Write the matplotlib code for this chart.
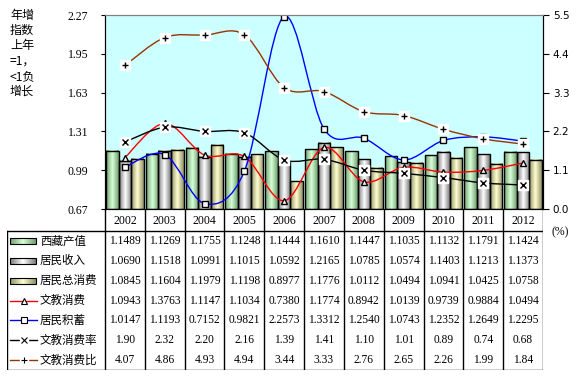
import numpy as np
import matplotlib
matplotlib.use("Agg")
import matplotlib.pyplot as plt
from matplotlib.path import Path
from matplotlib.patches import PathPatch, Rectangle
from matplotlib.colors import LinearSegmentedColormap

# 数据
years = ['2002', '2003', '2004', '2005', '2006', '2007', '2008', '2009', '2010', '2011', '2012']
xizang_output = [1.1489, 1.1269, 1.1755, 1.1248, 1.1444, 1.1610, 1.1447, 1.1035, 1.1132, 1.1791, 1.1424]
income = [1.0690, 1.1518, 1.0991, 1.1015, 1.0592, 1.2165, 1.0785, 1.0574, 1.1403, 1.1213, 1.1373]
consumption = [1.0845, 1.1604, 1.1979, 1.1198, 0.8977, 1.1776, 1.0112, 1.0494, 1.0941, 1.0425, 1.0758]
edu_spend = [1.0943, 1.3763, 1.1147, 1.1034, 0.7380, 1.1774, 0.8942, 1.0139, 0.9739, 0.9884, 1.0494]
savings = [1.0147, 1.1193, 0.7152, 0.9821, 2.2573, 1.3312, 1.2540, 1.0743, 1.2352, 1.2649, 1.2295]
edu_rate = [1.90, 2.32, 2.20, 2.16, 1.39, 1.41, 1.10, 1.01, 0.89, 0.74, 0.68]
edu_ratio = [4.07, 4.86, 4.93, 4.94, 3.44, 3.33, 2.76, 2.65, 2.26, 1.99, 1.84]

row_names = ['西藏产值', '居民收入', '居民总消费', '文教消费', '居民积蓄', '文教消费率', '文教消费比']
left_ticks = [0.67, 0.99, 1.31, 1.63, 1.95, 2.27]
right_ticks = [0.0, 1.1, 2.2, 3.3, 4.4, 5.5]

CJK = ['Noto Sans CJK SC', 'DejaVu Sans']
NUM = 'Liberation Serif'

W, H = 576, 376
fig = plt.figure(figsize=(W / 100, H / 100), dpi=100)


def fpos(x0, y0, x1, y1):
    # 像素坐标 -> figure 坐标
    return [x0 / W, 1 - y1 / H, (x1 - x0) / W, (y1 - y0) / H]


L, R, T, B = 105, 543, 15, 209
ax = fig.add_axes(fpos(L, T, R, B))
ax.set_facecolor('#ccffff')
ax2 = ax.twinx()

n = len(years)
x = np.arange(n)


def grad_cmap(dark, light):
    return LinearSegmentedColormap.from_list('g', [dark, light, dark])


bar_sets = [
    (xizang_output, grad_cmap('#6f9f6f', '#d8ffd8')),
    (income, grad_cmap('#7a7a7a', '#ffffff')),
    (consumption, grad_cmap('#8f8f66', '#ffffd0')),
]
bw = 0.317
g = np.linspace(0, 1, 64).reshape(1, -1)
for k, (vals, cmap) in enumerate(bar_sets):
    xs = x + (k - 1) * bw
    for xi, v in zip(xs, vals):
        ax.imshow(g, extent=(xi - bw / 2, xi + bw / 2, 0.67, v), aspect='auto',
                  cmap=cmap, zorder=1, interpolation='bilinear')
    ax.bar(xs, np.array(vals) - 0.67, bottom=0.67, width=bw, fill=False,
           edgecolor='black', linewidth=1, zorder=2)


def smooth_path(xv, yv):
    verts = [(xv[0], yv[0])]
    codes = [Path.MOVETO]
    m = len(xv)
    for i in range(m - 1):
        p0 = (xv[i - 1], yv[i - 1]) if i > 0 else (xv[i], yv[i])
        p3 = (xv[i + 2], yv[i + 2]) if i + 2 < m else (xv[i + 1], yv[i + 1])
        c1 = (xv[i] + (xv[i + 1] - p0[0]) / 6, yv[i] + (yv[i + 1] - p0[1]) / 6)
        c2 = (xv[i + 1] - (p3[0] - xv[i]) / 6, yv[i + 1] - (p3[1] - yv[i]) / 6)
        verts += [c1, c2, (xv[i + 1], yv[i + 1])]
        codes += [Path.CURVE4] * 3
    return Path(verts, codes)


def draw_series(a, vals, color, marker, z):
    a.add_patch(PathPatch(smooth_path(x, vals), fill=False, edgecolor=color,
                          linewidth=1, zorder=z))
    if marker in ('x', '+'):
        a.plot(x, vals, linestyle='none', marker='s', markersize=7,
               markerfacecolor='white', markeredgecolor='white', zorder=z + 1)
        a.plot(x, vals, linestyle='none', marker=marker, markersize=5,
               markeredgecolor='black', markeredgewidth=1, zorder=z + 2)
    else:
        a.plot(x, vals, linestyle='none', marker=marker, markersize=5,
               markerfacecolor='white', markeredgecolor='black',
               markeredgewidth=1, zorder=z + 1)


draw_series(ax, edu_spend, 'red', '^', 3)
draw_series(ax, savings, 'blue', 's', 5)
draw_series(ax2, edu_rate, 'black', 'x', 3)
draw_series(ax2, edu_ratio, '#993300', '+', 6)

ax.set_xlim(-0.5, n - 0.5)
ax.set_ylim(0.67, 2.27)
ax2.set_ylim(0, 5.5)
ax.set_yticks(left_ticks)
ax.set_yticklabels(['%.2f' % t for t in left_ticks], fontname=NUM, fontsize=8.5)
ax2.set_yticks(right_ticks)
ax2.set_yticklabels(['%.1f' % t for t in right_ticks], fontsize=7.5)
ax.set_xticks([])
ax.tick_params(axis='y', length=3, width=0.8, pad=9)
ax2.tick_params(axis='y', length=4, width=0.8, pad=3)
ax2.patch.set_visible(False)
for a in (ax, ax2):
    a.spines['top'].set_color('#808080')
    for s in ('left', 'right', 'bottom'):
        a.spines[s].set_color('black')

# 左侧说明
for i, s in enumerate(['年增', '指数', '上年', '=1，', '<1负', '增长']):
    fig.text(10 / W, 1 - (15 + i * 15.3) / H, s, family=CJK, fontsize=8.7,
             va='center', ha='left')
fig.text(551 / W, 1 - 232 / H, '(%)', fontname=NUM, fontsize=8.5, va='center')

# 数据表
TL, HB, TB = 7, 231, 370
tab = fig.add_axes(fpos(TL, B, R, TB))
tab.set_xlim(TL, R)
tab.set_ylim(TB, B)
tab.axis('off')
cw = (R - L) / n
rh = (TB - HB) / 7
lc = dict(color='black', linewidth=1)
for i in range(n + 1):
    tab.plot([L + i * cw] * 2, [B, TB], **lc)
tab.plot([TL, TL], [HB, TB], **lc)
tab.plot([TL, R], [HB, HB], **lc)
tab.plot([TL, R], [TB - 0.5, TB - 0.5], **lc)
for i, yr in enumerate(years):
    tab.text(L + (i + 0.5) * cw, (B + HB) / 2 + 0.5, yr, fontname=NUM,
             fontsize=8.5, ha='center', va='center')

rows = [
    ['%.4f' % v for v in xizang_output],
    ['%.4f' % v for v in income],
    ['%.4f' % v for v in consumption],
    ['%.4f' % v for v in edu_spend],
    ['%.4f' % v for v in savings],
    ['%.2f' % v for v in edu_rate],
    ['%.2f' % v for v in edu_ratio],
]
for r, vals in enumerate(rows):
    yc = HB + (r + 0.5) * rh
    for i, s in enumerate(vals):
        tab.text(L + (i + 0.5) * cw, yc, s, fontname=NUM, fontsize=8.3,
                 ha='center', va='center')
    tab.text(40, yc, row_names[r], family=CJK, fontsize=8.3, ha='left',
             va='center')

# 图例样本
for r, (vals, cmap) in enumerate(bar_sets):
    yc = HB + (r + 0.5) * rh
    tab.imshow(g, extent=(10, 36, yc + 3, yc - 3), aspect='auto', cmap=cmap,
               interpolation='bilinear')
    tab.add_patch(Rectangle((10, yc - 3), 26, 6, fill=False, edgecolor='black',
                            linewidth=0.8))
line_keys = [('red', '^'), ('blue', 's'), ('black', 'x'), ('#993300', '+')]
for j, (c, m) in enumerate(line_keys):
    yc = HB + (j + 3.5) * rh
    tab.plot([10, 37], [yc, yc], color=c, linewidth=1)
    if m in ('x', '+'):
        tab.plot([23.5], [yc], marker='s', markersize=6, color='white')
        tab.plot([23.5], [yc], marker=m, markersize=4, markeredgecolor='black',
                 markeredgewidth=0.8)
    else:
        tab.plot([23.5], [yc], marker=m, markersize=5, markerfacecolor='white',
                 markeredgecolor='black', markeredgewidth=0.8)
tab.set_xlim(TL, R)
tab.set_ylim(TB, B)

fig.savefig('out.png', dpi=100)
